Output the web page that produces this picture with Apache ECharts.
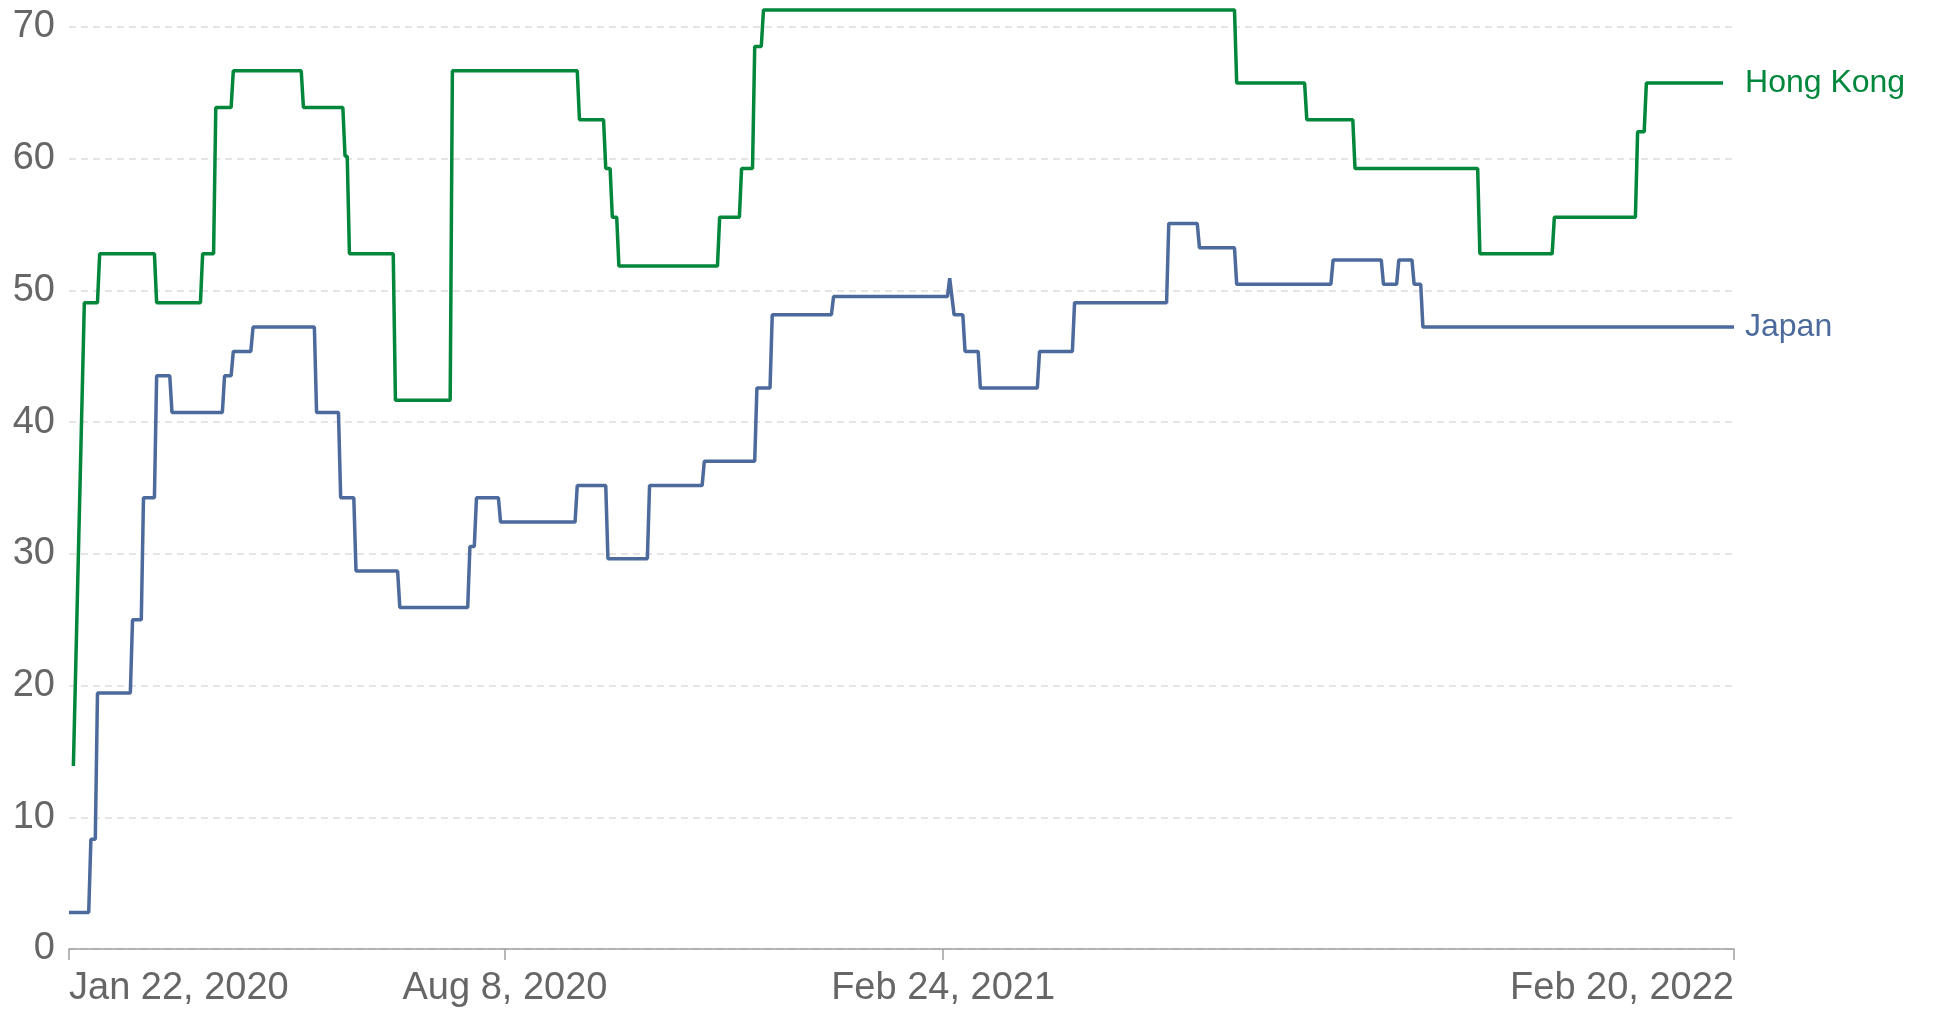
<!DOCTYPE html>
<html>
<head>
<meta charset="utf-8">
<script src="https://cdn.jsdelivr.net/npm/echarts@6/dist/echarts.min.js"></script>
<style>
    html, body { margin: 0; padding: 0; background: #fff; }
    #chart { width: 1933px; height: 1009px; }
</style>
</head>
<body>
<div id="chart"></div>
<script>
    // x轴刻度日期
    const tickDates = ['2020-01-22', '2020-08-08', '2021-02-24', '2022-02-20'];
    // y轴刻度
    const yTicks = [0, 10, 20, 30, 40, 50, 60, 70];

    // Hong Kong 拐点
    const hkDates = [
        '2020-01-24', '2020-01-29', '2020-02-04', '2020-02-05', '2020-03-01', '2020-03-02',
        '2020-03-22', '2020-03-23', '2020-03-28', '2020-03-29', '2020-04-05', '2020-04-06',
        '2020-05-07', '2020-05-08', '2020-05-26', '2020-05-27', '2020-05-28', '2020-05-29',
        '2020-06-18', '2020-06-19', '2020-07-14', '2020-07-15', '2020-09-10', '2020-09-11',
        '2020-09-22', '2020-09-23', '2020-09-25', '2020-09-26', '2020-09-28', '2020-09-29',
        '2020-11-13', '2020-11-14', '2020-11-23', '2020-11-24', '2020-11-29', '2020-11-30',
        '2020-12-03', '2020-12-04', '2021-07-07', '2021-07-08', '2021-08-08', '2021-08-09',
        '2021-08-30', '2021-08-31', '2021-10-26', '2021-10-27', '2021-11-29', '2021-11-30',
        '2022-01-06', '2022-01-07', '2022-01-10', '2022-01-11', '2022-02-15'
    ];
    const hkValues = [
        13.89, 49.07, 49.07, 52.78, 52.78, 49.07,
        49.07, 52.78, 52.78, 63.89, 63.89, 66.67,
        66.67, 63.89, 63.89, 60.19, 60.19, 52.78,
        52.78, 41.67, 41.67, 66.67, 66.67, 62.96,
        62.96, 59.26, 59.26, 55.56, 55.56, 51.85,
        51.85, 55.56, 55.56, 59.26, 59.26, 68.52,
        68.52, 71.3, 71.3, 65.74, 65.74, 62.96,
        62.96, 59.26, 59.26, 52.78, 52.78, 55.56,
        55.56, 62.04, 62.04, 65.74, 65.74
    ];

    // Japan 拐点
    const jpDates = [
        '2020-01-22', '2020-01-31', '2020-02-01', '2020-02-03', '2020-02-04', '2020-02-19',
        '2020-02-20', '2020-02-24', '2020-02-25', '2020-03-01', '2020-03-02', '2020-03-08',
        '2020-03-09', '2020-04-01', '2020-04-02', '2020-04-05', '2020-04-06', '2020-04-14',
        '2020-04-15', '2020-05-13', '2020-05-14', '2020-05-24', '2020-05-25', '2020-05-31',
        '2020-06-01', '2020-06-20', '2020-06-21', '2020-07-22', '2020-07-23', '2020-07-25',
        '2020-07-26', '2020-08-05', '2020-08-06', '2020-09-09', '2020-09-10', '2020-09-23',
        '2020-09-24', '2020-10-12', '2020-10-13', '2020-11-06', '2020-11-07', '2020-11-30',
        '2020-12-01', '2020-12-07', '2020-12-08', '2021-01-04', '2021-01-05', '2021-02-26',
        '2021-02-27', '2021-03-01', '2021-03-05', '2021-03-06', '2021-03-12', '2021-03-13',
        '2021-04-08', '2021-04-09', '2021-04-24', '2021-04-25', '2021-06-06', '2021-06-07',
        '2021-06-20', '2021-06-21', '2021-07-07', '2021-07-08', '2021-08-20', '2021-08-21',
        '2021-09-12', '2021-09-13', '2021-09-19', '2021-09-20', '2021-09-26', '2021-09-27',
        '2021-09-30', '2021-10-01', '2022-02-20'
    ];
    const jpValues = [
        2.78, 2.78, 8.33, 8.33, 19.44, 19.44,
        25, 25, 34.26, 34.26, 43.52, 43.52,
        40.74, 40.74, 43.52, 43.52, 45.37, 45.37,
        47.22, 47.22, 40.74, 40.74, 34.26, 34.26,
        28.7, 28.7, 25.93, 25.93, 30.56, 30.56,
        34.26, 34.26, 32.41, 32.41, 35.19, 35.19,
        29.63, 29.63, 35.19, 35.19, 37.04, 37.04,
        42.59, 42.59, 48.15, 48.15, 49.54, 49.54,
        50.93, 48.15, 48.15, 45.37, 45.37, 42.59,
        42.59, 45.37, 45.37, 49.07, 49.07, 55.09,
        55.09, 53.24, 53.24, 50.46, 50.46, 52.31,
        52.31, 50.46, 50.46, 52.31, 52.31, 50.46,
        50.46, 47.22, 47.22
    ];

    const hkColor = '#00873c';
    const jpColor = '#4c6a9c';
    const months = ['Jan', 'Feb', 'Mar', 'Apr', 'May', 'Jun', 'Jul', 'Aug', 'Sep', 'Oct', 'Nov', 'Dec'];
    const font = 'Liberation Sans, Arial, sans-serif';

    // 日期字符串转时间戳
    function toTime(s) {
        return echarts.time.parse(s).getTime();
    }

    function fmtDate(v) {
        let d = new Date(v);
        return months[d.getMonth()] + ' ' + d.getDate() + ', ' + d.getFullYear();
    }

    let tickTimes = tickDates.map(toTime);

    let mychart = echarts.init(document.getElementById('chart'));
    let option = {
        animation: false,
        grid: {
            left: 69,
            right: 199,
            top: 27,
            bottom: 60
        },
        xAxis: {
            type: 'value',
            min: tickTimes[0],
            max: tickTimes[tickTimes.length - 1],
            axisLine: {
                lineStyle: { color: '#a0a0a0', width: 1.5 }
            },
            axisTick: {
                show: true,
                length: 11,
                customValues: tickTimes,
                lineStyle: { color: '#a0a0a0', width: 1.5 }
            },
            axisLabel: {
                customValues: tickTimes,
                formatter: fmtDate,
                color: '#666',
                fontSize: 38,
                fontFamily: font,
                margin: 21,
                showMinLabel: true,
                showMaxLabel: true,
                alignMinLabel: 'left',
                alignMaxLabel: 'right'
            },
            splitLine: { show: false }
        },
        yAxis: {
            type: 'value',
            min: yTicks[0],
            max: yTicks[yTicks.length - 1],
            interval: yTicks[1] - yTicks[0],
            axisLine: { show: false },
            axisTick: { show: false },
            axisLabel: {
                color: '#666',
                fontSize: 38,
                fontFamily: font,
                margin: 14
            },
            splitLine: {
                lineStyle: { color: '#dddddd', type: [7, 5], width: 1.5 }
            }
        },
        series: [
            {
                name: 'Hong Kong',
                type: 'line',
                showSymbol: false,
                clip: false,
                data: hkDates.map((d, i) => [toTime(d), hkValues[i]]),
                lineStyle: { color: hkColor, width: 3.5 },
                itemStyle: { color: hkColor },
                endLabel: {
                    show: true,
                    formatter: '{a}',
                    color: hkColor,
                    fontSize: 32,
                    fontFamily: font,
                    distance: 22
                }
            },
            {
                name: 'Japan',
                type: 'line',
                showSymbol: false,
                clip: false,
                data: jpDates.map((d, i) => [toTime(d), jpValues[i]]),
                lineStyle: { color: jpColor, width: 3.5 },
                itemStyle: { color: jpColor },
                endLabel: {
                    show: true,
                    formatter: '{a}',
                    color: jpColor,
                    fontSize: 32,
                    fontFamily: font,
                    distance: 11
                }
            }
        ]
    };
    mychart.setOption(option);
</script>
</body>
</html>
